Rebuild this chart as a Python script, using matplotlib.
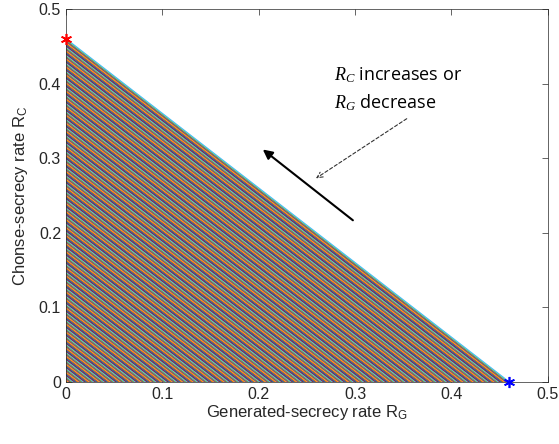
import numpy as np
import matplotlib.pyplot as plt

plt.rcParams['font.family'] = ['Liberation Sans', 'DejaVu Sans']
plt.rcParams['mathtext.fontset'] = 'custom'
plt.rcParams['mathtext.rm'] = 'Liberation Sans'
plt.rcParams['mathtext.it'] = 'Liberation Serif:italic'

# maximum rate (corner points of the region)
rate_max = 0.46
n_lines = 300
# sum-rate levels R_G + R_C = c swept from 0 to rate_max
levels = np.linspace(0, rate_max, n_lines)

matlab_colors = ['#0072BD', '#D95319', '#EDB120', '#7E2F8E',
                 '#77AC30', '#4DBEEE', '#A2142F']

fig = plt.figure(figsize=(5.59, 4.44), dpi=100)
ax = fig.add_axes([0.118, 0.1396, 0.862, 0.8401])

for i, c in enumerate(levels):
    ax.plot([0, c], [c, 0], color=matlab_colors[i % 7], lw=1.0)

# MATLAB-style asterisk markers at the corner points
ax.plot(0, rate_max, marker=(6, 2, 0), color='red', ms=8, mew=1.2,
        zorder=5, clip_on=False)
ax.plot(rate_max, 0, marker=(6, 2, 0), color='blue', ms=8, mew=1.2,
        zorder=5, clip_on=False)

ax.set_xlim(0, 0.5)
ax.set_ylim(0, 0.5)
ax.set_xticks([0, 0.1, 0.2, 0.3, 0.4, 0.5])
ax.set_yticks([0, 0.1, 0.2, 0.3, 0.4, 0.5])
ax.set_xticklabels(['0', '0.1', '0.2', '0.3', '0.4', '0.5'])
ax.set_yticklabels(['0', '0.1', '0.2', '0.3', '0.4', '0.5'])
ax.tick_params(direction='in', top=True, right=True, labelsize=11.5,
               color='#262626', labelcolor='#262626', length=4, width=0.5)
for s in ax.spines.values():
    s.set_color('#262626')
    s.set_linewidth(0.5)

ax.set_xlabel('Generated-secrecy rate R$_\\mathrm{G}$', fontsize=12,
              color='#262626', labelpad=1)
ax.set_ylabel('Chonse-secrecy rate R$_\\mathrm{C}$', fontsize=12,
              color='#262626', labelpad=6)

# solid arrow along the boundary direction
ax.annotate('', xy=(0.202, 0.314), xytext=(0.300, 0.2145),
            arrowprops=dict(arrowstyle='-|>', color='black', lw=1.5,
                            mutation_scale=14))
# dashed pointer from the text
ax.annotate('', xy=(0.257, 0.271), xytext=(0.356, 0.355),
            arrowprops=dict(arrowstyle='->', color='#333333', lw=0.8,
                            linestyle=(0, (3, 2)), mutation_scale=10))

ax.text(0.2785, 0.412, '$\\mathit{R_C}$ increases or', fontsize=13,
        family=['Open Sans', 'DejaVu Sans'], va='center')
ax.text(0.2785, 0.375, '$\\mathit{R_G}$ decrease', fontsize=13,
        family=['Open Sans', 'DejaVu Sans'], va='center')

fig.savefig('out.png', dpi=100)
